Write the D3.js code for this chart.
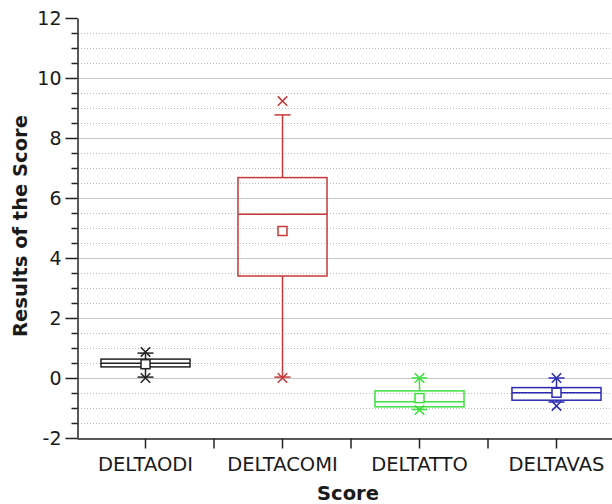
<!DOCTYPE html>
<html>
<head>
<meta charset="utf-8">
<script src="https://cdn.jsdelivr.net/npm/d3@7"></script>
<style>
  body { margin: 0; background: #fff; }
  text { font-family: "DejaVu Sans", sans-serif; fill: #1a1a1a; }
</style>
</head>
<body>
<svg width="612" height="504"></svg>
<script>
// Box plot data
const categories = ["DELTAODI", "DELTACOMI", "DELTATTO", "DELTAVAS"];
const q1 = [0.37, 3.40, -0.96, -0.74];
const medians = [0.49, 5.46, -0.79, -0.49];
const q3 = [0.63, 6.68, -0.43, -0.32];
const means = [0.46, 4.90, -0.67, -0.49];
const whiskerLow = [0.03, 0.03, -1.05, -0.80];
const whiskerHigh = [0.83, 8.77, 0.0, 0.0];
const minValues = [0.0, 0.0, -1.07, -0.93];
const maxValues = [0.87, 9.23, 0.0, 0.0];
const colors = ["#222222", "#c83838", "#3ee03e", "#2a2ab4"];

const majorTicks = [-2, 0, 2, 4, 6, 8, 10, 12];
const minorTicks = d3.range(-1.5, 12, 0.5).filter(v => v % 2 !== 0);

const svg = d3.select("svg");

// Plot area (the right side is cut off by the picture edge)
const plotLeft = 77, plotRight = 625, plotTop = 18, plotBottom = 438;

const x = d3.scaleBand()
    .domain(categories)
    .range([plotLeft, plotRight]);

const y = d3.scaleLinear()
    .domain([-2, 12])
    .range([plotBottom, plotTop]);

// Grid lines
const grid = svg.append("g");
grid.selectAll("line.minor")
    .data(minorTicks)
    .enter().append("line")
    .attr("x1", plotLeft + 1)
    .attr("x2", 612)
    .attr("y1", d => Math.round(y(d)) + 0.5)
    .attr("y2", d => Math.round(y(d)) + 0.5)
    .attr("stroke", "#bdbdbd")
    .attr("stroke-dasharray", "1,2");

grid.selectAll("line.major")
    .data(majorTicks.filter(d => d > -2 && d < 12))
    .enter().append("line")
    .attr("x1", plotLeft + 1)
    .attr("x2", 612)
    .attr("y1", d => Math.round(y(d)) + 0.5)
    .attr("y2", d => Math.round(y(d)) + 0.5)
    .attr("stroke", "#c8c8c8");

// Y axis
const yAxis = svg.append("g")
    .attr("transform", `translate(${plotLeft + 0.5},0)`)
    .call(d3.axisLeft(y).tickValues(majorTicks).tickSize(12).tickPadding(4)
        .tickSizeOuter(0).tickFormat(d => String(d)));
yAxis.select(".domain").attr("stroke", "#222").attr("stroke-width", 1.5);
yAxis.selectAll(".tick line").attr("stroke", "#222").attr("stroke-width", 1.5);
yAxis.selectAll(".tick text")
    .style("font-family", "DejaVu Sans, sans-serif")
    .style("font-size", "19px")
    .attr("fill", "#1a1a1a");

svg.append("g")
    .attr("transform", `translate(${plotLeft + 0.5},0)`)
    .call(d3.axisLeft(y).tickValues(minorTicks).tickSize(6).tickFormat(""))
    .call(g => g.select(".domain").remove())
    .selectAll(".tick line").attr("stroke", "#222").attr("stroke-width", 1.5);

// X axis
const xAxis = svg.append("g")
    .attr("transform", `translate(0,${plotBottom + 0.5})`)
    .call(d3.axisBottom(x).tickSize(10).tickPadding(9).tickSizeOuter(0));
xAxis.select(".domain").attr("stroke", "#222").attr("stroke-width", 1.5);
xAxis.selectAll(".tick line").attr("stroke", "#222").attr("stroke-width", 1.5);
xAxis.selectAll(".tick text")
    .style("font-family", "DejaVu Sans, sans-serif")
    .style("font-size", "19.5px")
    .attr("fill", "#1a1a1a");

// tick marks between categories
xAxis.selectAll("line.sep")
    .data(categories.slice(1))
    .enter().append("line")
    .attr("x1", d => x(d))
    .attr("x2", d => x(d))
    .attr("y1", 0)
    .attr("y2", 10)
    .attr("stroke", "#222")
    .attr("stroke-width", 1.5);

// Axis titles
svg.append("text")
    .attr("transform", `translate(27,${(plotTop + plotBottom) / 2 - 2}) rotate(-90)`)
    .attr("text-anchor", "middle")
    .style("font-size", "19.5px")
    .style("font-weight", "bold")
    .text("Results of the Score");

svg.append("text")
    .attr("x", (plotLeft + plotRight) / 2 - 3)
    .attr("y", 500)
    .attr("text-anchor", "middle")
    .style("font-size", "19.5px")
    .style("font-weight", "bold")
    .text("Score");

// Boxes
const boxes = svg.append("g")
    .selectAll("g")
    .data(categories)
    .enter().append("g")
    .attr("stroke", (d, i) => colors[i])
    .attr("stroke-width", 1.5)
    .attr("fill", "none");

const boxW = x.bandwidth() * 0.65;
const cx = d => x(d) + x.bandwidth() / 2;

// whiskers
boxes.append("line")
    .attr("x1", cx).attr("x2", cx)
    .attr("y1", (d, i) => y(q3[i])).attr("y2", (d, i) => y(whiskerHigh[i]));
boxes.append("line")
    .attr("x1", cx).attr("x2", cx)
    .attr("y1", (d, i) => y(q1[i])).attr("y2", (d, i) => y(whiskerLow[i]));

// whisker caps
boxes.append("line")
    .attr("x1", d => cx(d) - 8).attr("x2", d => cx(d) + 8)
    .attr("y1", (d, i) => y(whiskerHigh[i])).attr("y2", (d, i) => y(whiskerHigh[i]));
boxes.append("line")
    .attr("x1", d => cx(d) - 8).attr("x2", d => cx(d) + 8)
    .attr("y1", (d, i) => y(whiskerLow[i])).attr("y2", (d, i) => y(whiskerLow[i]));

// box
boxes.append("rect")
    .attr("x", d => cx(d) - boxW / 2)
    .attr("width", boxW)
    .attr("y", (d, i) => y(q3[i]))
    .attr("height", (d, i) => y(q1[i]) - y(q3[i]));

// median
boxes.append("line")
    .attr("x1", d => cx(d) - boxW / 2).attr("x2", d => cx(d) + boxW / 2)
    .attr("y1", (d, i) => y(medians[i])).attr("y2", (d, i) => y(medians[i]));

// mean square
boxes.append("rect")
    .attr("x", d => cx(d) - 4.5)
    .attr("y", (d, i) => y(means[i]) - 4.5)
    .attr("width", 9)
    .attr("height", 9)
    .attr("fill", "#fff");

// min / max cross markers
const cross = d3.symbol().type(d3.symbolTimes).size(60);
boxes.append("path")
    .attr("d", cross)
    .attr("transform", (d, i) => `translate(${cx(d)},${y(maxValues[i])})`);
boxes.append("path")
    .attr("d", cross)
    .attr("transform", (d, i) => `translate(${cx(d)},${y(minValues[i])})`);
</script>
</body>
</html>
